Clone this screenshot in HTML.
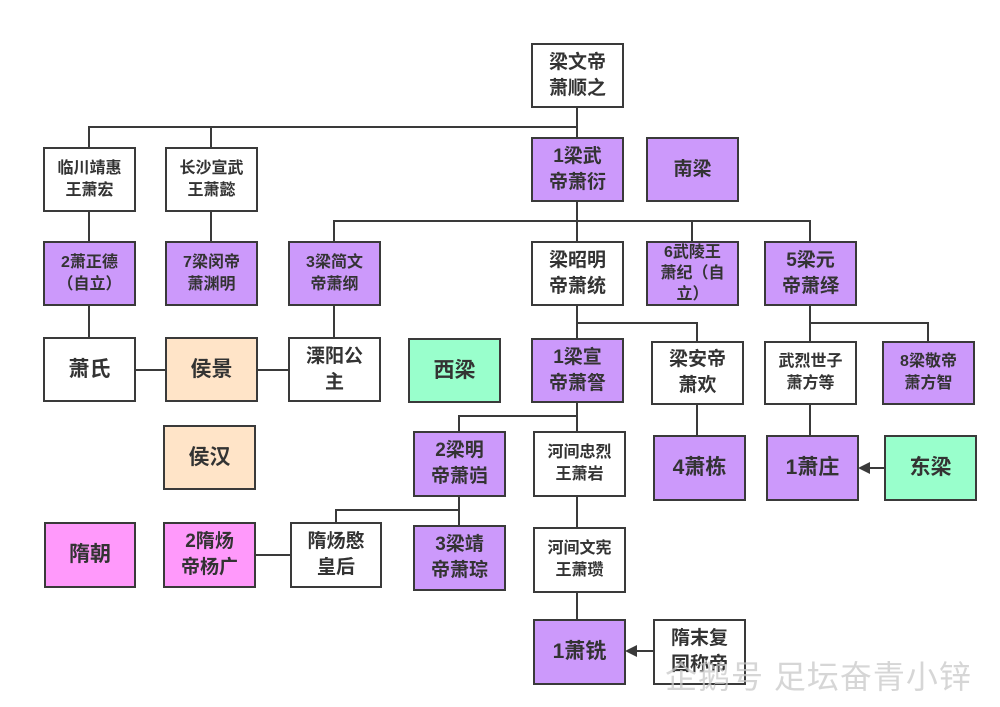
<!DOCTYPE html>
<html><head><meta charset="utf-8"><style>
html,body{margin:0;padding:0;background:#fff;}
#c{position:relative;width:1000px;height:707px;overflow:hidden;font-family:"Liberation Sans","Noto Sans CJK SC",sans-serif;}
.b{position:absolute;box-sizing:border-box;border:2px solid #3a3a3a;display:flex;align-items:center;justify-content:center;text-align:center;font-weight:bold;color:#333;font-size:19px;line-height:26px;background:#fff;}
.p{background:#cc99fb;}
.o{background:#ffe4c8;}
.g{background:#99ffcc;}
.k{background:#ff99fb;}
.s{font-size:16px;line-height:22px;}
.l{font-size:21px;}
svg{position:absolute;left:0;top:0;}
#wm{position:absolute;left:665px;top:652px;font-size:32px;color:rgba(200,200,200,0.75);font-family:"Liberation Sans","Noto Sans CJK SC",sans-serif;letter-spacing:1px;white-space:nowrap;}
</style></head><body><div id="c">
<svg width="1000" height="707">
<g stroke="#3a3a3a" stroke-width="2" fill="none">
<path d="M577 107V137"/>
<path d="M89 147V127H577M211 127V147"/>
<path d="M89 212V241M211 212V241"/>
<path d="M577 201V241M334 241V221H810V241M692 221V241"/>
<path d="M89 305V337M334 305V337"/>
<path d="M135 370H166M257 370H288"/>
<path d="M577 305V338M577 323H697V341"/>
<path d="M810 305V341M810 323H928V341"/>
<path d="M577 402V431M459 431V416H577"/>
<path d="M697 404V435M810 404V435"/>
<path d="M459 497V525M336 522V510H459"/>
<path d="M256 555H290"/>
<path d="M577 497V527M577 593V619"/>
<path d="M884 468H868M653 651H637"/>
</g>
<path d="M858 468L870 462V474Z" fill="#3a3a3a"/>
<path d="M625 651L637 645V657Z" fill="#3a3a3a"/>
</svg>
<div class="b" style="left:531px;top:43px;width:93px;height:65px">梁文帝<br>萧顺之</div>
<div class="b s" style="left:43px;top:147px;width:93px;height:65px">临川靖惠<br>王萧宏</div>
<div class="b s" style="left:165px;top:147px;width:93px;height:65px">长沙宣武<br>王萧懿</div>
<div class="b p" style="left:531px;top:137px;width:93px;height:65px">1梁武<br>帝萧衍</div>
<div class="b p" style="left:646px;top:137px;width:93px;height:65px">南梁</div>
<div class="b p s" style="left:43px;top:241px;width:93px;height:65px">2萧正德<br>（自立）</div>
<div class="b p s" style="left:165px;top:241px;width:93px;height:65px">7梁闵帝<br>萧渊明</div>
<div class="b p s" style="left:288px;top:241px;width:93px;height:65px">3梁简文<br>帝萧纲</div>
<div class="b" style="left:531px;top:241px;width:93px;height:65px">梁昭明<br>帝萧统</div>
<div class="b p s" style="left:646px;top:241px;width:93px;height:65px;line-height:21px">6武陵王<br>萧纪（自<br>立）</div>
<div class="b p" style="left:764px;top:241px;width:93px;height:65px">5梁元<br>帝萧绎</div>
<div class="b l" style="left:43px;top:337px;width:93px;height:65px">萧氏</div>
<div class="b o l" style="left:165px;top:337px;width:93px;height:65px">侯景</div>
<div class="b" style="left:288px;top:337px;width:93px;height:65px">溧阳公<br>主</div>
<div class="b g l" style="left:408px;top:338px;width:93px;height:65px">西梁</div>
<div class="b p" style="left:531px;top:338px;width:93px;height:65px">1梁宣<br>帝萧詧</div>
<div class="b" style="left:651px;top:341px;width:93px;height:64px">梁安帝<br>萧欢</div>
<div class="b s" style="left:764px;top:341px;width:93px;height:64px">武烈世子<br>萧方等</div>
<div class="b p s" style="left:882px;top:341px;width:93px;height:64px">8梁敬帝<br>萧方智</div>
<div class="b o l" style="left:163px;top:425px;width:93px;height:65px">侯汉</div>
<div class="b p" style="left:413px;top:431px;width:93px;height:66px">2梁明<br>帝萧岿</div>
<div class="b s" style="left:533px;top:431px;width:93px;height:66px">河间忠烈<br>王萧岩</div>
<div class="b p l" style="left:653px;top:435px;width:93px;height:66px">4萧栋</div>
<div class="b p l" style="left:766px;top:435px;width:93px;height:66px">1萧庄</div>
<div class="b g l" style="left:884px;top:435px;width:93px;height:66px">东梁</div>
<div class="b k l" style="left:44px;top:522px;width:92px;height:66px">隋朝</div>
<div class="b k" style="left:163px;top:522px;width:93px;height:66px">2隋炀<br>帝杨广</div>
<div class="b" style="left:290px;top:522px;width:92px;height:66px">隋炀愍<br>皇后</div>
<div class="b p" style="left:413px;top:525px;width:93px;height:66px">3梁靖<br>帝萧琮</div>
<div class="b s" style="left:533px;top:527px;width:93px;height:66px">河间文宪<br>王萧瓒</div>
<div class="b p l" style="left:533px;top:619px;width:93px;height:66px">1萧铣</div>
<div class="b" style="left:653px;top:619px;width:93px;height:66px">隋末复<br>国称帝</div>
<div id="wm">企鹅号 足坛奋青小锌</div>
</div></body></html>
